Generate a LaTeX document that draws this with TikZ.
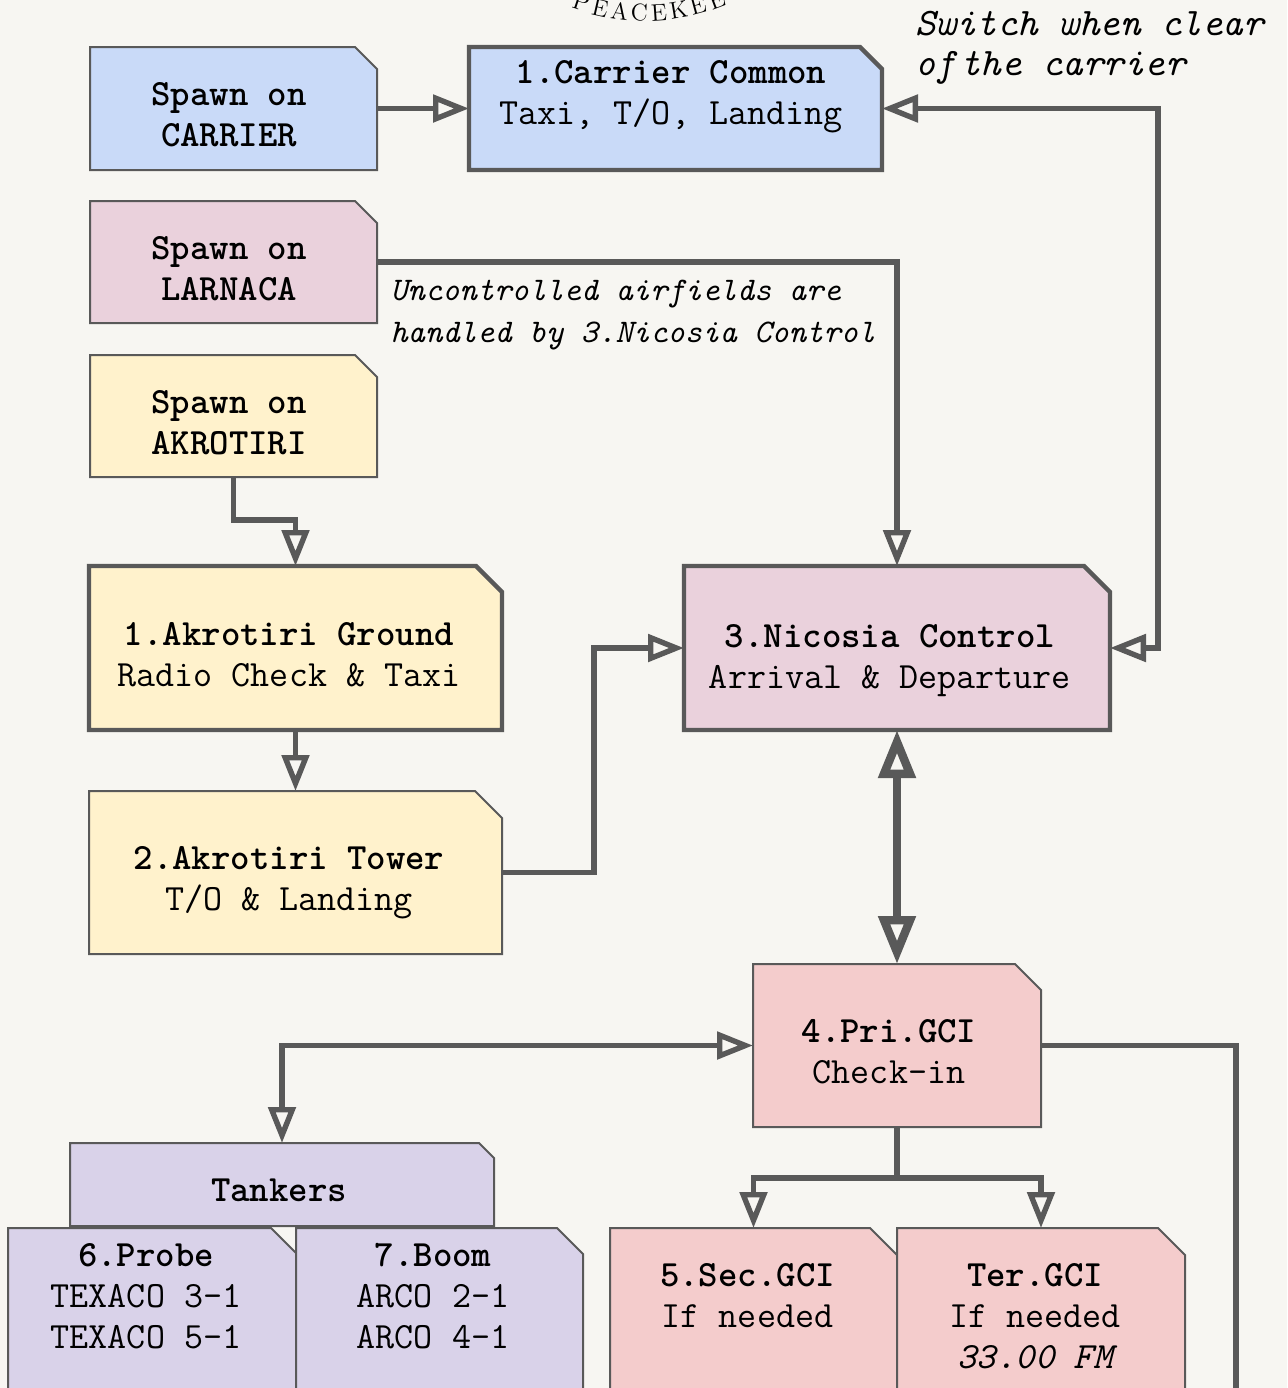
\documentclass[tikz,border=0pt]{standalone}
\usetikzlibrary{arrows.meta,fit}
\pgfdeclarelayer{paperlayer}
\pgfdeclarelayer{boxlayer}
\pgfsetlayers{paperlayer,boxlayer,main}
\definecolor{paper}{RGB}{247,246,242}
\definecolor{linec}{RGB}{89,89,89}
\definecolor{cblue}{HTML}{C9DAF8}
\definecolor{cpink}{HTML}{EAD1DC}
\definecolor{cyel}{HTML}{FFF2CC}
\definecolor{cred}{HTML}{F4CCCC}
\definecolor{cpurp}{HTML}{D9D2E9}
\tikzset{
  anchorbox/.style={inner sep=0pt, outer sep=0pt},
  boxtext/.style={font=\ttfamily\fontsize{18.5}{20.5}\selectfont, align=center, inner sep=0pt},
  note/.style={font=\ttfamily\itshape\fontsize{16.5}{21}\selectfont, align=left, inner sep=0pt, anchor=west},
  bignote/.style={font=\ttfamily\itshape\fontsize{19.5}{20}\selectfont, align=left, inner sep=0pt, anchor=west},
  tip/.tip={Triangle[open, length=18pt, width=13.5pt]},
  bigtip/.tip={Triangle[open, length=24pt, width=18pt]},
  conn/.style={draw=linec, line width=2.7pt, -tip},
  dconn/.style={draw=linec, line width=2.7pt, tip-tip},
  bigconn/.style={draw=linec, line width=4.2pt, bigtip-bigtip},
  plainconn/.style={draw=linec, line width=2.7pt},
  seal/.style={font=\fontsize{12}{14}\selectfont, inner sep=0pt, anchor=base},
}
\newcommand\mkbox[5]{\path (#2,#3) coordinate (#1-nw) (#4,#5) coordinate (#1-se);
  \node[fit=(#1-nw)(#1-se), anchorbox] (#1) {};}
\newcommand\drawcut[4]{\filldraw[fill=#2, draw=linec, line width=#3, line join=miter]
  (#1.south west) -- (#1.north west) -- ([xshift=-#4]#1.north east)
  -- ([yshift=-#4]#1.north east) -- (#1.south east) -- cycle;}
\begin{document}
\begin{tikzpicture}[x=0.5pt,y=-0.5pt]
\useasboundingbox (0,0) rectangle (1287,1388);
\begin{pgfonlayer}{paperlayer}
  \fill[paper] (0,0) rectangle (1287,1388);
\end{pgfonlayer}

% box anchors
\mkbox{A}{90}{47}{377}{170}
\mkbox{B}{469}{47}{882}{170}
\mkbox{C}{90}{201}{377}{323}
\mkbox{D}{90}{355}{377}{477}
\mkbox{E}{89}{566}{502}{730}
\mkbox{F}{89}{791}{502}{954}
\mkbox{G}{684}{566}{1110}{730}
\mkbox{H}{753}{964}{1041}{1127}
\mkbox{T}{70}{1143}{494}{1226}
\mkbox{P}{8}{1228}{296}{1420}
\mkbox{Bm}{296}{1228}{583}{1420}
\mkbox{S}{610}{1228}{897}{1420}
\mkbox{Tr}{897}{1228}{1185}{1420}

\begin{pgfonlayer}{boxlayer}
  \drawcut{A}{cblue}{1pt}{11pt}
  \drawcut{B}{cblue}{2.2pt}{11pt}
  \drawcut{C}{cpink}{1pt}{11pt}
  \drawcut{D}{cyel}{1pt}{11pt}
  \drawcut{E}{cyel}{2.2pt}{13pt}
  \drawcut{F}{cyel}{1pt}{13.5pt}
  \drawcut{G}{cpink}{2.2pt}{13pt}
  \drawcut{H}{cred}{1pt}{13pt}
  \drawcut{T}{cpurp}{1pt}{7.5pt}
  \drawcut{P}{cpurp}{1pt}{12.5pt}
  \drawcut{Bm}{cpurp}{1pt}{13pt}
  \drawcut{S}{cred}{1pt}{13.5pt}
  \drawcut{Tr}{cred}{1pt}{13.5pt}
\end{pgfonlayer}

% texts
\node[boxtext] (tA) at (229,117.3) {\bfseries\strut Spawn on\\\bfseries\strut CARRIER};
\node[boxtext] (tB) at (671,95.3) {\strut\bfseries 1.Carrier Common\\\strut Taxi, T/O, Landing};
\node[boxtext] (tC) at (229,271.3) {\bfseries\strut Spawn on\\\bfseries\strut LARNACA};
\node[boxtext] (tD) at (229,425.3) {\bfseries\strut Spawn on\\\bfseries\strut AKROTIRI};
\node[boxtext] (tE) at (289,657.3) {\strut\bfseries 1.Akrotiri Ground\\\strut Radio Check \& Taxi};
\node[boxtext] (tF) at (289,881.3) {\strut\bfseries 2.Akrotiri Tower\\\strut T/O \& Landing};
\node[boxtext] (tG) at (890,659.3) {\strut\bfseries 3.Nicosia Control\\\strut Arrival \& Departure};
\node[boxtext] (tH) at (889,1054.3) {\strut\bfseries 4.Pri.GCI\\\strut Check-in};
\node[boxtext] (tT) at (279,1192.8) {\strut\bfseries Tankers};
\node[boxtext] (tP) at (146,1298.8) {\strut\bfseries 6.Probe\\\strut TEXACO 3-1\\\strut TEXACO 5-1};
\node[boxtext] (tBm) at (433,1298.8) {\strut\bfseries 7.Boom\\\strut ARCO 2-1\\\strut ARCO 4-1};
\node[boxtext] (tS) at (747.5,1298.3) {\strut\bfseries 5.Sec.GCI\\\strut If needed};
\node[boxtext] (tTr) at (1035,1318.8) {\strut\bfseries Ter.GCI\\\strut If needed\\\strut\itshape 33.00 FM};

\node[note] (n1) at (390,312.6) {\strut Uncontrolled airfields are\\\strut handled by 3.Nicosia Control};
\node[bignote] (n2) at (915,47) {\strut Switch when clear\\\strut of\hspace{2pt}the carrier};

% seal text at the top
\foreach \ch [count=\i from 0] in {P,E,A,C,E,K,E,E} {
  \pgfmathsetmacro\ang{-1.6+(\i-3)*5.6}
  \node[seal, rotate=\ang] (seal\i) at ({645+210*sin(\ang)},{-189+210*cos(\ang)}) {\ch};
}

% connectors
\draw[conn] (A.east) -- (B.west);
\draw[dconn] (G.east) -- ++(48,0) |- (B.east);
\draw[conn] (C.east) -| (G.north);
\draw[conn] (D.south) -- ++(0,43) -| (E.north);
\draw[conn] (E.south) -- (F.north);
\draw[conn] (F.east) -- ++(92,0) |- (G.west);
\draw[bigconn] (G.south) -- (H.north);
\draw[dconn] (H.west) -| (T.north);
\draw[plainconn] (H.south) -- ++(0,51) coordinate (split);
\draw[conn] (split) -| (S.north);
\draw[conn] (split) -| (Tr.north);
\coordinate (rend) at (1236,1400);
\draw[plainconn] (H.east) -| (rend);
\end{tikzpicture}
\end{document}
